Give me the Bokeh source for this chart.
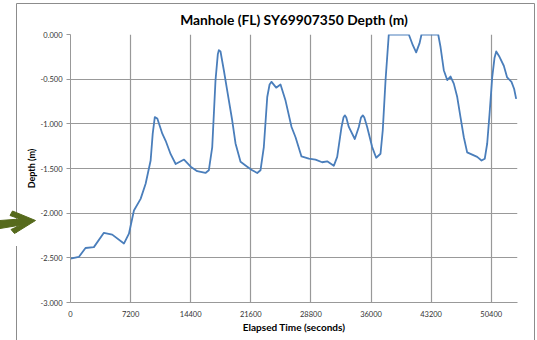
from bokeh.plotting import figure
from bokeh.models import (Range1d, FixedTicker, NumeralTickFormatter, Title,
                          InlineStyleSheet)
from bokeh.embed import file_html
from bokeh.resources import INLINE

# Elapsed time (s) and depth (m)
time_s = [0, 1000, 1800, 2800, 4000, 5000, 6400, 7000, 7600, 8400, 9000, 9600, 9850,
          10100, 10400, 11000, 11400, 12000, 12600, 13600, 14400, 15180, 16170, 16570,
          16980, 17370, 17650, 17770, 17970, 18370, 18770, 19370, 19770, 20370, 21170, 21770,
          22370, 22760, 23160, 23570, 23850, 24080, 24640, 25160, 25760, 26480, 26960, 27670,
          28550, 29350, 30150, 30750, 31540, 31950, 32470, 32700, 32860, 33040, 33340, 34060,
          34540, 34800, 35020, 35200, 35540, 36140, 36620, 37140, 37410, 37740, 38130, 40530,
          41010, 41410, 41810, 42050, 44050, 44330, 44720, 45130, 45520, 45920, 46330, 46720,
          47120, 47520, 48120, 48720, 49240, 49630, 49920, 50200, 50520, 50800, 51000, 51390,
          51910, 52310, 52830, 53150, 53390]
depth_m = [-2.51, -2.49, -2.39, -2.38, -2.22, -2.24, -2.34, -2.23, -1.97, -1.84, -1.67,
           -1.41, -1.11, -0.925, -0.94, -1.11, -1.19, -1.34, -1.45, -1.40, -1.48, -1.53,
           -1.55, -1.52, -1.26, -0.515, -0.22, -0.175, -0.19, -0.40, -0.625, -0.96, -1.22,
           -1.425, -1.48, -1.52, -1.55, -1.52, -1.26, -0.70, -0.56, -0.53, -0.595, -0.56,
           -0.74, -1.035, -1.15, -1.365, -1.39, -1.40, -1.43, -1.42, -1.47, -1.37, -1.035,
           -0.93, -0.905, -0.93, -1.035, -1.17, -1.035, -0.93, -0.905, -0.93, -1.035, -1.26,
           -1.38, -1.335, -1.07, -0.515, 0.0, 0.0, -0.12, -0.20, -0.10, 0.0, 0.0, -0.14,
           -0.40, -0.51, -0.47, -0.55, -0.70, -0.925, -1.15, -1.32, -1.345, -1.37, -1.41,
           -1.39, -1.22, -0.89, -0.48, -0.26, -0.19, -0.25, -0.35, -0.48, -0.53, -0.61, -0.72]

x_ticks = [0, 7200, 14400, 21600, 28800, 36000, 43200, 50400]
y_ticks = [-3.0, -2.5, -2.0, -1.5, -1.0, -0.5, 0.0]

FONT = "Lato"
GRID = "#999999"

p = figure(width=537, height=340, output_backend="svg", toolbar_location=None,
           x_range=Range1d(0, 53550), y_range=Range1d(-3.0, 0.0),
           min_border_left=70, min_border_right=20, min_border_top=34,
           min_border_bottom=38)
p.frame_width = 447
p.frame_height = 268
p.outline_line_color = None
p.background_fill_color = "white"

t = Title(text="Manhole (FL) SY69907350 Depth (m)", align="center", offset=-17,
          text_font=FONT, text_font_size="13.8px", text_font_style="bold",
          text_color="#000000", standoff=13)
p.add_layout(t, "above")

p.line(time_s, depth_m, line_color="#4a7ebb", line_width=1.8, line_join="round")

p.xaxis.ticker = FixedTicker(ticks=x_ticks)
p.yaxis.ticker = FixedTicker(ticks=y_ticks)
p.yaxis.formatter = NumeralTickFormatter(format="0.000")
p.xaxis.formatter = NumeralTickFormatter(format="0")
for ax in (p.xaxis, p.yaxis):
    ax.axis_line_color = GRID
    ax.major_tick_line_color = GRID
    ax.minor_tick_line_color = None
    ax.major_tick_in = 0
    ax.major_tick_out = 4
    ax.major_label_text_font = FONT
    ax.major_label_text_font_size = "7.5px"
    ax.major_label_text_color = "#333333"
    ax.axis_label_text_font = FONT
    ax.axis_label_text_font_style = "bold"
    ax.axis_label_text_color = "#000000"
p.xaxis.major_tick_out = 0
p.xaxis.major_label_standoff = 8
p.yaxis.major_label_standoff = 4
p.xaxis.axis_label = "Elapsed Time (seconds)"
p.xaxis.axis_label_text_font_size = "10px"
p.xaxis.axis_label_standoff = 1
p.yaxis.axis_label = "Depth (m)"
p.yaxis.axis_label_text_font_size = "9px"
p.yaxis.axis_label_standoff = 1

p.xgrid.grid_line_color = GRID
p.ygrid.grid_line_color = GRID
p.xgrid.grid_line_width = 1.2
p.ygrid.grid_line_width = 1.2

# chart border (with a gap) and the pointer arrow, drawn outside the plot frame
svg = ("<svg xmlns='http://www.w3.org/2000/svg' width='537' height='340'>"
       "<path d='M16.5 340 V246 M16.5 233 V3.5 H534.5 V340' fill='none' "
       "stroke='%238c8c8c' stroke-width='1'/>"
       "<polygon points='0,220.5 20,219 10,215.5 12.5,211 35.5,220.5 14.5,233.5 "
       "11,229.5 21,225 0,228.5' fill='%23566a1c' stroke='%23566a1c' stroke-width='1'/>"
       "</svg>")
css = (":host { position: relative; }\n"
       ":host::after { content: ''; position: absolute; left: 0; top: 0; "
       "width: 537px; height: 340px; pointer-events: none; z-index: 10; "
       "background-image: url(\"data:image/svg+xml;utf8," + svg + "\"); "
       "background-repeat: no-repeat; }")
p.stylesheets = [InlineStyleSheet(css=css)]

open("out.html", "w").write(file_html(p, INLINE))
